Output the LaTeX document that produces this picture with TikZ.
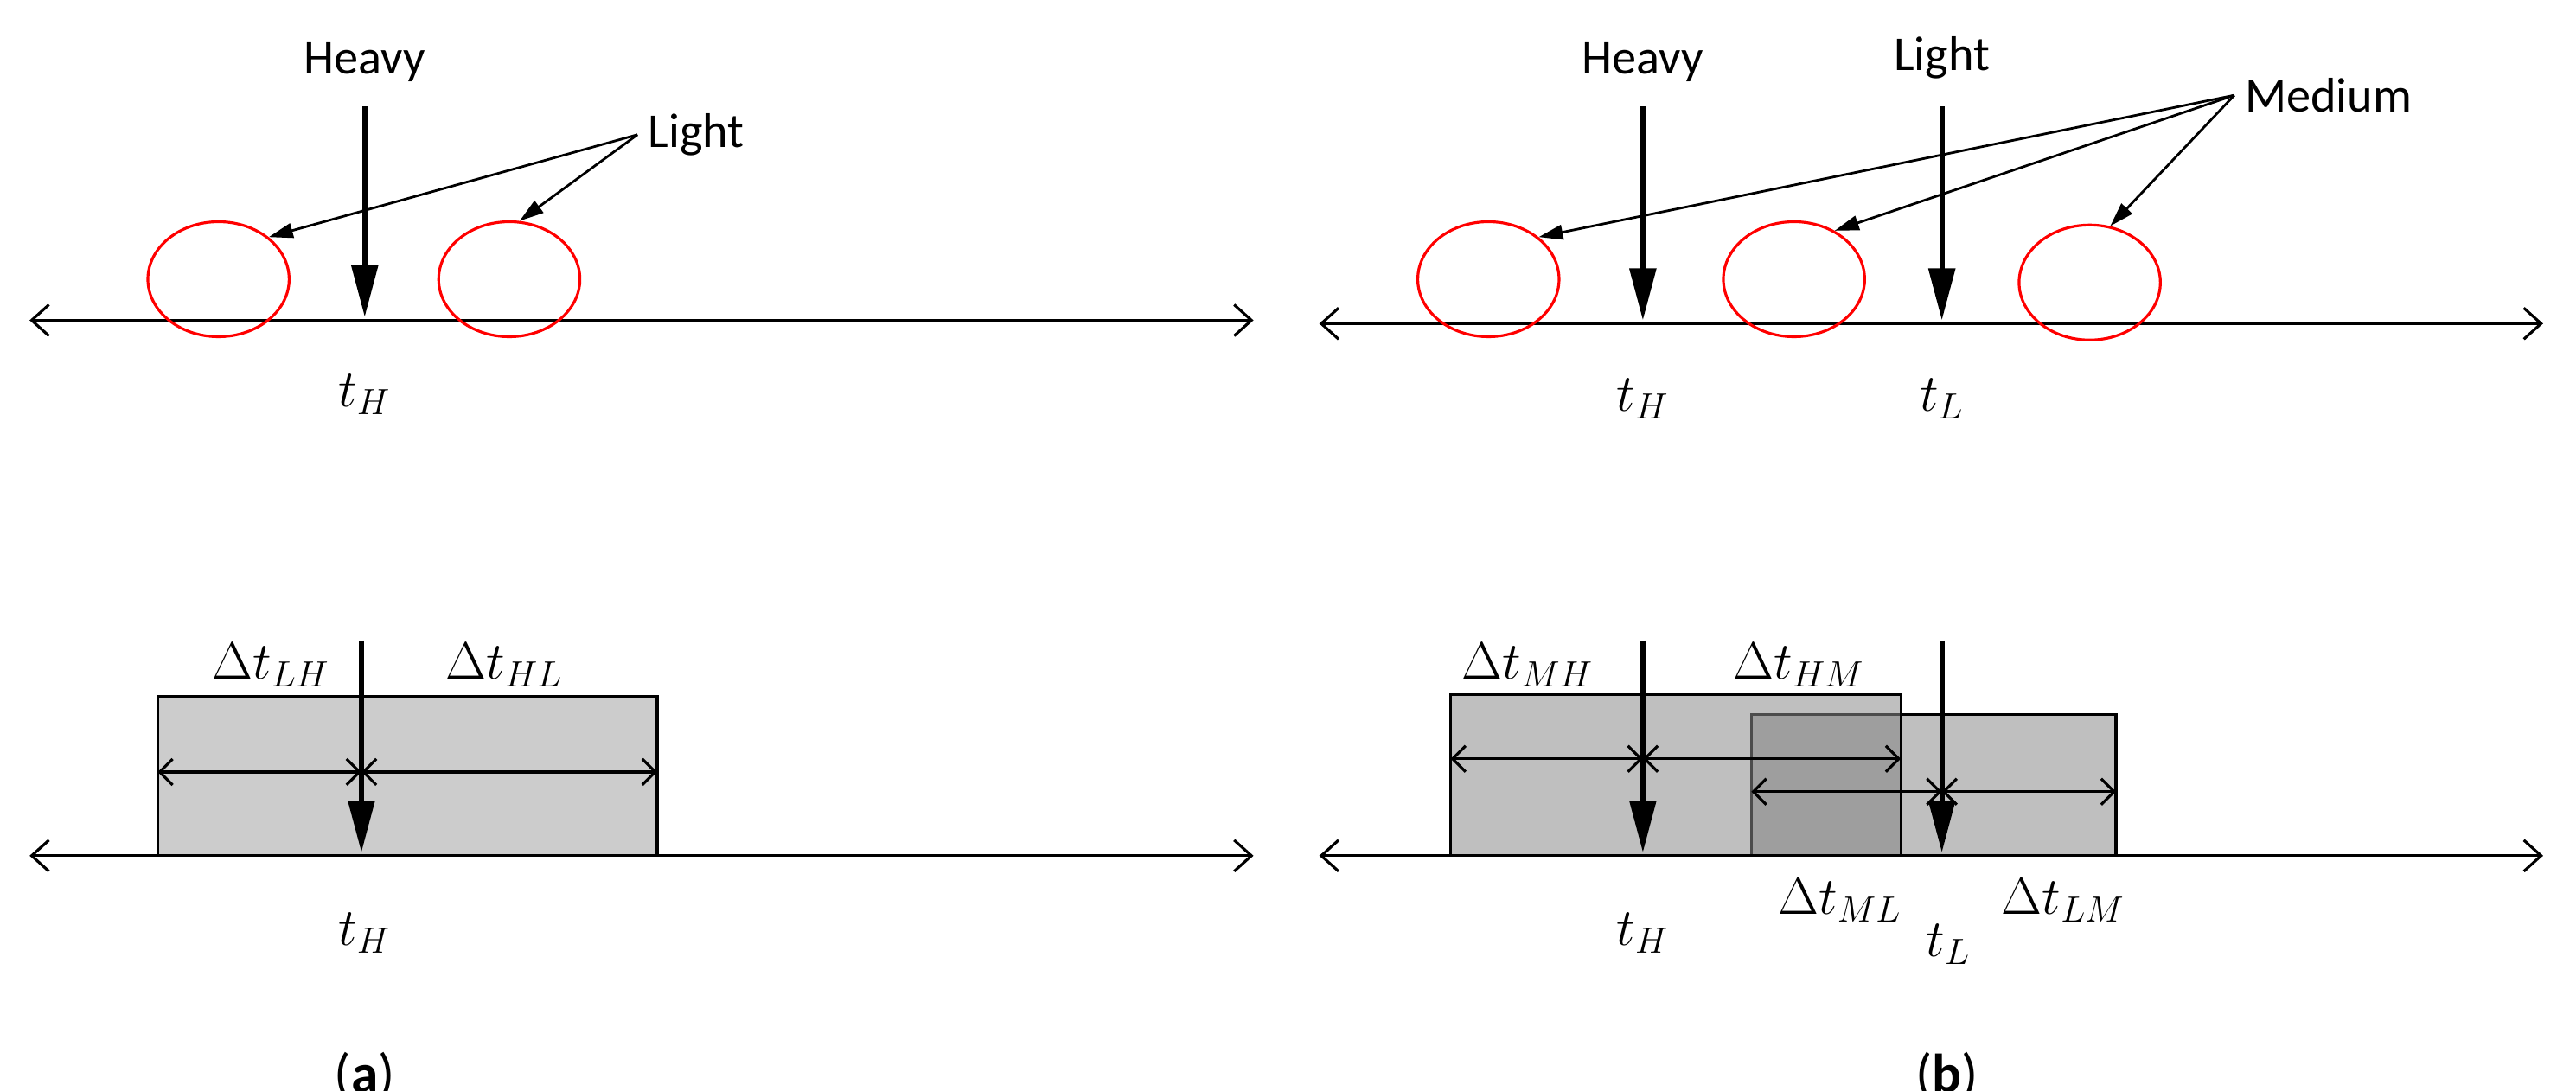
\documentclass[tikz,border=0pt]{standalone}
\usepackage{fontspec}
\setmainfont{Carlito}
\usetikzlibrary{arrows.meta,shapes.geometric}
\begin{document}
\begin{tikzpicture}[x=0.019cm,y=-0.019cm,
  axis/.style={line width=0.9pt,{Straight Barb[length=0.2cm,width=0.36cm]}-{Straight Barb[length=0.2cm,width=0.36cm]}},
  heavy/.style={line width=1.7pt,-{Triangle[length=0.6cm,width=0.3cm]}},
  ptr/.style={line width=0.8pt,-{Triangle[length=0.28cm,width=0.17cm]}},
  dim/.style={line width=0.9pt,{Straight Barb[length=0.15cm,width=0.3cm]}-{Straight Barb[length=0.15cm,width=0.3cm]}},
  blob/.style={draw=red,line width=0.9pt,ellipse,minimum width=86*0.019cm,minimum height=70*0.019cm,inner sep=0pt},
  lbl/.style={font=\fontsize{16}{19}\selectfont},
  mth/.style={font=\fontsize{17}{20}\selectfont}]
\useasboundingbox (0,0) rectangle (1568,664);
% ---------- (a) top
\coordinate (aL) at (18,195); \coordinate (aR) at (763,195);
\draw[axis] (aL) -- (aR);
\node[blob] (ac1) at (133,170) {};
\node[blob] (ac2) at (310,170) {};
\node[lbl] (aheavy) at (222,38) {Heavy};
\coordinate (ah0) at (222,65); \coordinate (ah1) at (222,193);
\draw[heavy] (ah0) -- (ah1);
\node[lbl,anchor=west] (alight) at (388,82) {Light};
\draw[ptr] (alight.west) -- (ac1.40);
\draw[ptr] (alight.west) -- (ac2.80);
\node[mth] (atH) at (222,240) {$t_H$};
% ---------- (a) bottom
\coordinate (bL) at (18,521); \coordinate (bR) at (763,521);
\draw[line width=0.9pt,fill=black!20] (96,424) rectangle (400,521);
\draw[axis] (bL) -- (bR);
\coordinate (d0) at (96,470); \coordinate (d1) at (220,470); \coordinate (d2) at (400,470);
\draw[dim] (d0) -- (d1); \draw[dim] (d1) -- (d2);
\coordinate (bh0) at (220,390); \coordinate (bh1) at (220,519);
\draw[heavy] (bh0) -- (bh1);
\node[mth] at (165,405) {$\Delta t_{LH}$};
\node[mth] at (307,405) {$\Delta t_{HL}$};
\node[mth] at (222,568) {$t_H$};
\node[font=\fontsize{18}{21}\selectfont] at (222,655) {(\textbf{a})};
% ---------- (b) top
\coordinate (cL) at (803,197); \coordinate (cR) at (1548,197);
\draw[axis] (cL) -- (cR);
\node[blob] (bc1) at (906,170) {};
\node[blob] (bc2) at (1092,170) {};
\node[blob] (bc3) at (1272,172) {};
\node[lbl] at (1000,38) {Heavy};
\node[lbl] at (1182,35) {Light};
\coordinate (ch0) at (1000,65); \coordinate (ch1) at (1000,195);
\coordinate (cl0) at (1182,65); \coordinate (cl1) at (1182,195);
\draw[heavy] (ch0) -- (ch1);
\draw[heavy] (cl0) -- (cl1);
\node[lbl,anchor=west] (cmed) at (1360,58) {Medium};
\draw[ptr] (cmed.west) -- (bc1.40);
\draw[ptr] (cmed.west) -- (bc2.50);
\draw[ptr] (cmed.west) -- (bc3.70);
\node[mth] at (1000,243) {$t_H$};
\node[mth] at (1182,243) {$t_L$};
% ---------- (b) bottom
\coordinate (eL) at (803,521); \coordinate (eR) at (1548,521);
\draw[line width=0.9pt,fill=black!25] (883,423) rectangle (1157,521);
\draw[line width=0.9pt,fill=black!25] (1157,435) -- (1288,435) -- (1288,521) -- (1157,521);
\fill[black!38] (1066,435) rectangle (1157,521);
\draw[line width=0.9pt,black!70] (1066,521) -- (1066,435) -- (1157,435);
\draw[line width=0.9pt] (1157,423) -- (1157,521);
\draw[axis] (eL) -- (eR);
\coordinate (f0) at (883,462); \coordinate (f1) at (1000,462); \coordinate (f2) at (1157,462);
\coordinate (g0) at (1066,482); \coordinate (g1) at (1182,482); \coordinate (g2) at (1288,482);
\draw[dim] (f0) -- (f1); \draw[dim] (f1) -- (f2);
\draw[dim] (g0) -- (g1); \draw[dim] (g1) -- (g2);
\coordinate (eh0) at (1000,390); \coordinate (eh1) at (1000,519);
\coordinate (el0) at (1182,390); \coordinate (el1) at (1182,519);
\draw[heavy] (eh0) -- (eh1);
\draw[heavy] (el0) -- (el1);
\node[mth] at (930,405) {$\Delta t_{MH}$};
\node[mth] at (1095,405) {$\Delta t_{HM}$};
\node[mth] at (1120,548) {$\Delta t_{ML}$};
\node[mth] at (1256,548) {$\Delta t_{LM}$};
\node[mth] at (1000,568) {$t_H$};
\node[mth] at (1186,575) {$t_L$};
\node[font=\fontsize{18}{21}\selectfont] at (1185,655) {(\textbf{b})};
\end{tikzpicture}
\end{document}
